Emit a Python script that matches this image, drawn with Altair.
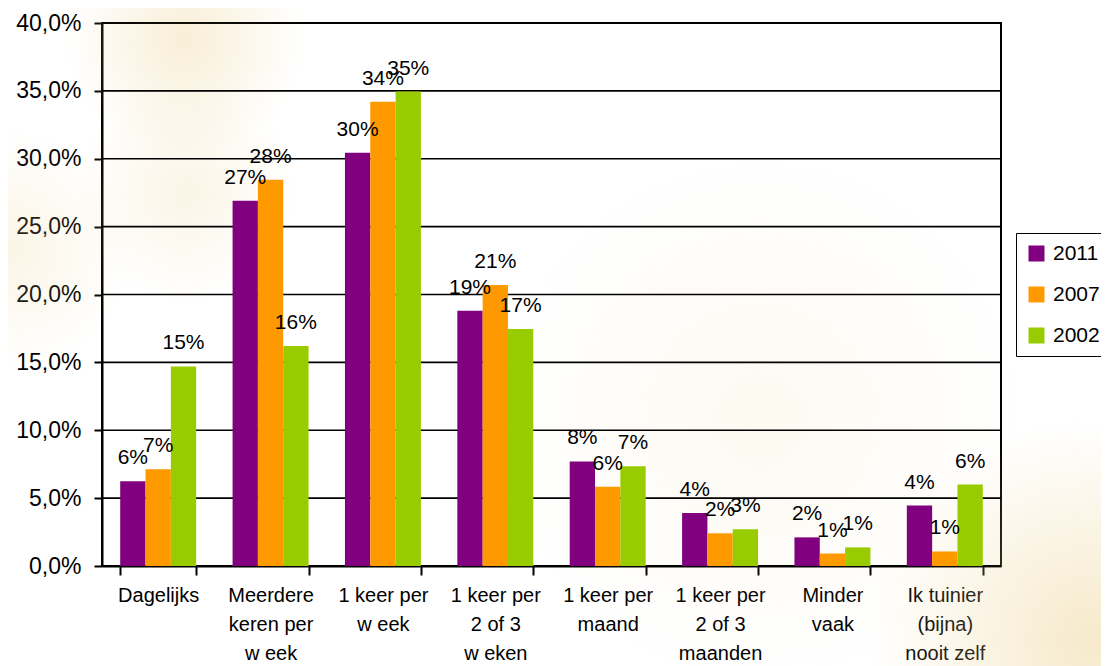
import altair as alt
import pandas as pd

categories = [
    "Dagelijks",
    "Meerdere\nkeren per\nw eek",
    "1 keer per\nw eek",
    "1 keer per\n2 of 3\nw eken",
    "1 keer per\nmaand",
    "1 keer per\n2 of 3\nmaanden",
    "Minder\nvaak",
    "Ik tuinier\n(bijna)\nnooit zelf",
]
years = ["2011", "2007", "2002"]
v2011 = [6.24, 26.9, 30.45, 18.8, 7.7, 3.9, 2.11, 4.45]
v2007 = [7.12, 28.45, 34.2, 20.7, 5.84, 2.41, 0.92, 1.07]
v2002 = [14.7, 16.2, 34.95, 17.45, 7.34, 2.71, 1.37, 6.0]
colors = ["#800080", "#FF9900", "#99CC00"]
y_ticks = [0, 5, 10, 15, 20, 25, 30, 35, 40]

rows = []
for yr, vals in zip(years, [v2011, v2007, v2002]):
    for c, v in zip(categories, vals):
        rows.append({"cat": c, "year": yr, "value": v, "label": f"{int(v + 0.5)}%"})
df = pd.DataFrame(rows)

FONT = "Liberation Sans"


# soft warm background glows (decoration, like the slide background):
# circular radial gradients in square boxes (centre x, centre y, radius, alpha)
def glow(cx, cy, r, alpha):
    grad = {
        "gradient": "radial",
        "x1": 0.5, "y1": 0.5, "r1": 0,
        "x2": 0.5, "y2": 0.5, "r2": 0.5,
        "stops": [
            {"offset": 0, "color": f"rgba(236,208,140,{alpha})"},
            {"offset": 1, "color": "rgba(236,208,140,0)"},
        ],
    }
    return (
        alt.Chart(pd.DataFrame({"k": [0]}))
        .mark_rect(fill=grad, strokeWidth=0)
        .encode(
            x=alt.value(cx - r), x2=alt.value(cx + r),
            y=alt.value(cy - r), y2=alt.value(cy + r),
        )
    )


glows = [
    glow(83, 17, 120, 0.35),
    glow(83, 170, 110, 0.22),
    glow(-92, 227, 120, 0.22),
    glow(988, 617, 220, 0.45),
    glow(658, 397, 260, 0.12),
]

base = alt.Chart(df).encode(
    x=alt.X(
        "cat:N",
        sort=categories,
        scale=alt.Scale(paddingInner=0.324, paddingOuter=0.162),
        axis=alt.Axis(
            title=None,
            labelAngle=0,
            labelExpr="split(datum.label, '\\n')",
            labelLineHeight=29,
            labelFont=FONT,
            labelFontSize=20,
            labelColor="black",
            labelPadding=10,
            labelBaseline="top",
            tickBand="extent",
            tickSize=9,
            tickColor="black",
            tickWidth=2,
            domainColor="black",
            domainWidth=2,
            grid=False,
        ),
    ),
    xOffset=alt.XOffset("year:N", sort=years),
)

bars = base.mark_bar().encode(
    y=alt.Y(
        "value:Q",
        scale=alt.Scale(domain=[0, 40], nice=False),
        axis=alt.Axis(
            title=None,
            values=y_ticks,
            labelExpr="replace(format(datum.value, '.1f'), '.', ',') + '%'",
            labelFont=FONT,
            labelFontSize=23,
            labelColor="black",
            labelPadding=13,
            tickSize=8,
            tickColor="black",
            tickWidth=2,
            domainColor="black",
            domainWidth=2,
            grid=False,
        ),
    ),
    color=alt.Color(
        "year:N",
        sort=years,
        scale=alt.Scale(domain=years, range=colors),
        legend=alt.Legend(
            title=None,
            orient="none",
            legendX=914,
            legendY=210,
            symbolType="square",
            symbolSize=256,
            symbolStrokeWidth=0,
            labelFont=FONT,
            labelFontSize=21,
            labelColor="black",
            labelOffset=6,
            rowPadding=19,
            padding=10,
            strokeColor="black",
            fillColor="white",
        ),
    ),
)

grid = (
    alt.Chart(pd.DataFrame({"tick": y_ticks}))
    .mark_rule(color="black", strokeWidth=1.6)
    .encode(y=alt.Y("tick:Q"))
)

labels = base.mark_text(
    baseline="alphabetic", dy=-17, fontSize=21, font=FONT, color="black"
).encode(
    y=alt.Y("value:Q"),
    text="label:N",
)

chart = (
    alt.layer(*glows, grid, bars, labels)
    .properties(
        width=899,
        height=543,
        autosize="none",
        padding={"left": 94, "top": 15, "right": 100, "bottom": 100},
        background="white",
    )
    .configure_view(stroke="black", strokeWidth=2)
)

chart.save("out.html", embed_options={"renderer": "svg", "actions": False})
